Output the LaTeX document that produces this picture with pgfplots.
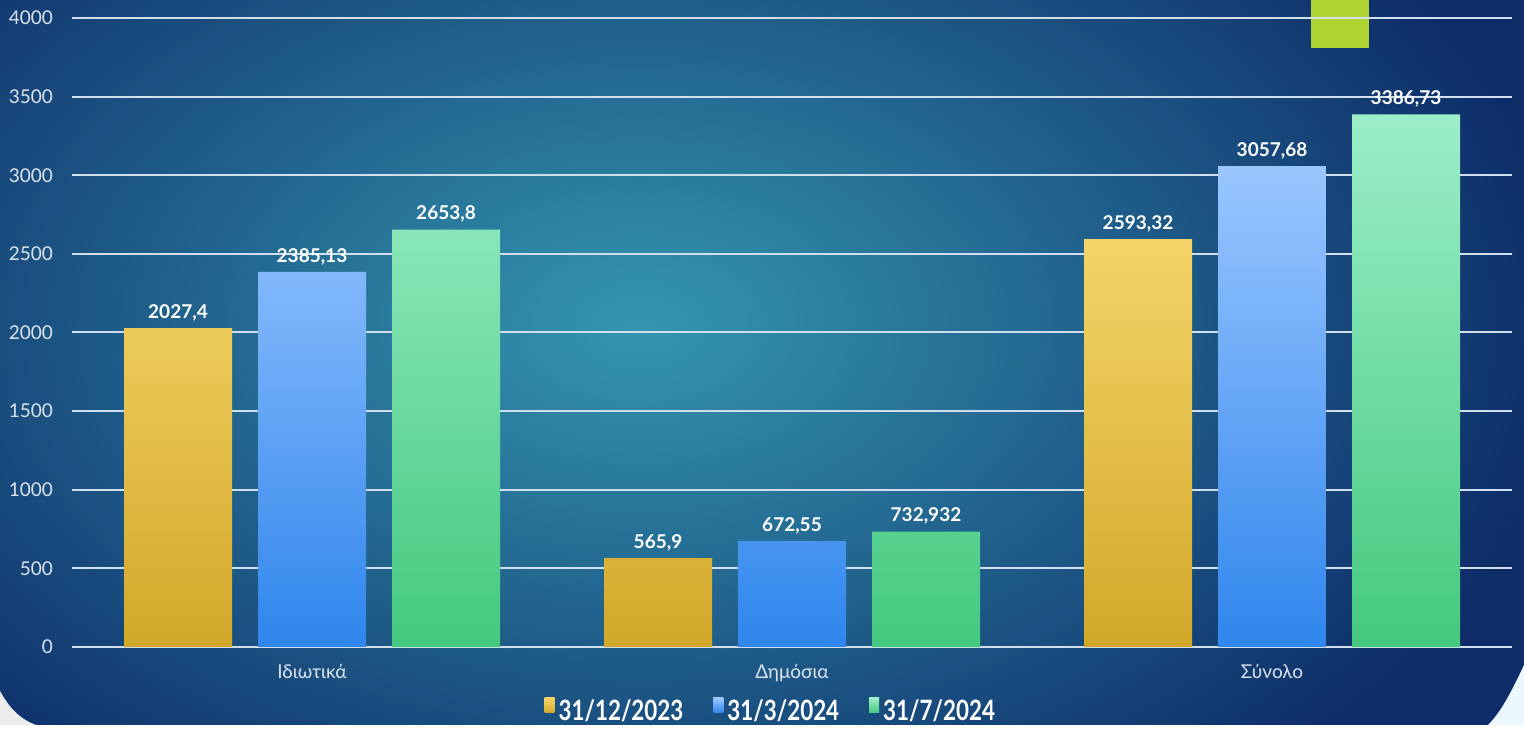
\documentclass[border=0pt]{standalone}
\usepackage{fontspec}
\setmainfont{Lato}
\newfontfamily\legfont[FakeStretch=0.8]{Lato}
\usepackage{pgfplots}
\pgfplotsset{compat=1.18}
\usepackage{pgfplotstable}

\definecolor{bgdark}{HTML}{0D2C68}
\definecolor{bglight}{HTML}{3496B0}
\definecolor{gridc}{HTML}{D2DEEA}
\definecolor{tickc}{HTML}{DCE4EE}
\definecolor{yT}{HTML}{F4D468}
\definecolor{yB}{HTML}{D2A82A}
\definecolor{bT}{HTML}{9AC6FF}
\definecolor{bB}{HTML}{2F86EC}
\definecolor{gT}{HTML}{9CEEC8}
\definecolor{gB}{HTML}{44C97E}
\definecolor{lime}{HTML}{ADD432}

\pgfplotstableread{
x y label
0 2027.4 2027,4
1 565.9 565,9
2 2593.32 2593,32
}\tA
\pgfplotstableread{
x y label
0 2385.13 2385,13
1 672.55 672,55
2 3057.68 3057,68
}\tB
\pgfplotstableread{
x y label
0 2653.8 2653,8
1 732.932 732,932
2 3386.73 3386,73
}\tC

\begin{document}
\begin{tikzpicture}
% background
\fill[bgdark] (0pt,0pt) rectangle (762pt,362.5pt);
\begin{scope}
\clip (0pt,0pt) rectangle (762pt,362.5pt);
\shade[inner color=bglight, outer color=bgdark] (320pt,200pt) ellipse (470pt and 300pt);
\fill[gray!15] (0pt,0pt) -- (0pt,17pt) .. controls (5pt,8pt) and (10pt,3pt) .. (18pt,0pt) -- cycle;
\fill[cyan!8!white] (762pt,0pt) -- (762pt,30pt) .. controls (755pt,15pt) and (750pt,6pt) .. (744pt,0pt) -- cycle;
\fill[lime] (655.5pt,338.5pt) rectangle (684.5pt,362.5pt);
\end{scope}
\begin{axis}[
  at={(36pt,39pt)}, anchor=south west,
  width=720pt, height=314.5pt, scale only axis,
  xmin=-0.5, xmax=2.5, ymin=0, ymax=4000,
  enlargelimits=false, clip=false,
  axis line style={draw=none},
  major tick length=0pt,
  ytick={0,500,...,4000},
  xtick={0,1,2},
  xticklabels={Ιδιωτικά,Δημόσια,Σύνολο},
  ymajorgrids,
  grid style={color=gridc, line width=1pt},
  /pgf/number format/assume math mode=true,
  /pgf/number format/set thousands separator={},
  tick label style={color=tickc, font=\fontsize{9.5}{11}\selectfont},
  yticklabel style={xshift=-6pt},
  xticklabel style={yshift=-5pt},
  ybar=13pt, bar width=54pt,
  point meta=explicit symbolic,
  nodes near coords={\pgfplotspointmeta},
  every node near coord/.append style={text=white, font=\bfseries\fontsize{9.5}{11}\selectfont},
  legend style={at={(0.486,-0.1033)}, anchor=center, draw=none, fill=none,
    text=white, font=\legfont\bfseries\fontsize{14}{16}\selectfont,
    /tikz/every even column/.append style={column sep=13pt}},
  legend columns=3,
  legend image code/.code={\fill[#1] (0pt,-0.5pt) rectangle (5pt,7pt);},
]
\addplot[draw=none, top color=yT, bottom color=yB] table[x=x,y=y,meta=label] {\tA};
\addplot[draw=none, top color=bT, bottom color=bB] table[x=x,y=y,meta=label] {\tB};
\addplot[draw=none, top color=gT, bottom color=gB] table[x=x,y=y,meta=label] {\tC};
\legend{31/12/2023,31/3/2024,31/7/2024}
\end{axis}
\end{tikzpicture}
\end{document}
